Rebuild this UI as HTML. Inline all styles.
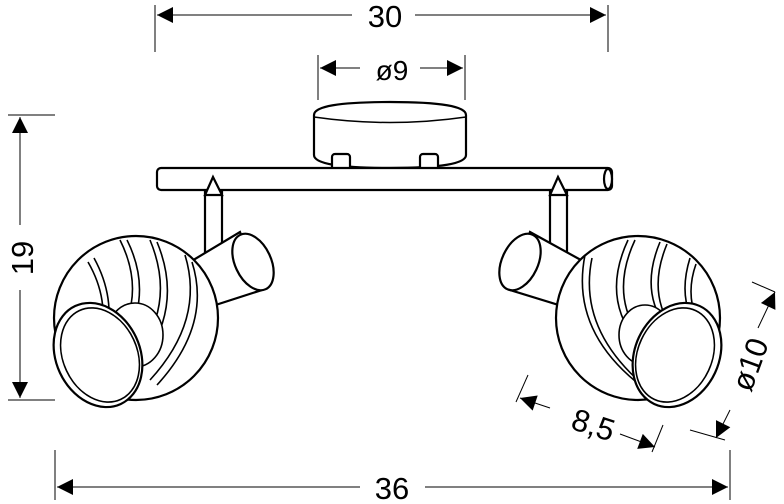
<!DOCTYPE html>
<html><head><style>body{margin:0;background:#fff}svg{display:block}</style></head><body>
<svg width="784" height="504" viewBox="0 0 784 504" xmlns="http://www.w3.org/2000/svg" font-family="Liberation Sans, sans-serif">
<defs>
<marker id="a" viewBox="0 0 10 10" refX="10" refY="5" markerWidth="22" markerHeight="16" markerUnits="userSpaceOnUse" orient="auto-start-reverse"><path d="M0,0L10,5L0,10z" fill="#000"/></marker>
</defs>
<g stroke="#000" stroke-width="1" fill="none">
<line x1="155" y1="5" x2="155" y2="52"/><line x1="608" y1="5" x2="608" y2="52"/>
<line x1="157" y1="15" x2="352" y2="15" marker-start="url(#a)"/>
<line x1="415" y1="15" x2="606" y2="15" marker-end="url(#a)"/>
<line x1="318" y1="55" x2="318" y2="100"/><line x1="465" y1="55" x2="465" y2="100"/>
<line x1="320" y1="68" x2="360" y2="68" marker-start="url(#a)"/>
<line x1="420" y1="68" x2="463" y2="68" marker-end="url(#a)"/>
<line x1="8" y1="115" x2="55" y2="115"/><line x1="8" y1="400" x2="55" y2="400"/>
<line x1="20" y1="117" x2="20" y2="225" marker-start="url(#a)"/>
<line x1="20" y1="290" x2="20" y2="398" marker-end="url(#a)"/>
<line x1="55" y1="450" x2="55" y2="500"/><line x1="730" y1="450" x2="730" y2="500"/>
<line x1="57" y1="487" x2="360" y2="487" marker-start="url(#a)"/>
<line x1="425" y1="487" x2="728" y2="487" marker-end="url(#a)"/>
<line x1="528" y1="375" x2="516" y2="402"/><line x1="663" y1="425" x2="652" y2="452"/>
<line x1="520" y1="398" x2="550" y2="408" marker-start="url(#a)"/>
<line x1="620" y1="434" x2="655" y2="447" marker-end="url(#a)"/>
<line x1="752" y1="282" x2="775" y2="292"/><line x1="690" y1="430" x2="725" y2="440"/>
<line x1="775" y1="292" x2="758" y2="328" marker-start="url(#a)"/>
<line x1="730" y1="410" x2="716" y2="438" marker-end="url(#a)"/>
</g>
<g font-size="31" fill="#000" text-anchor="middle">
<text x="385" y="27">30</text>
<text x="392" y="80" font-size="28">ø9</text>
<text x="392" y="499">36</text>
<text transform="translate(33,258) rotate(-90)">19</text>
<text transform="translate(590,435) rotate(18)">8,5</text>
<text transform="translate(760,368) rotate(-70)">ø10</text>
</g>
<g stroke="#000" stroke-width="2.2" fill="#fff">
<path d="M314,115 Q314,102 390,102 Q466,102 466,115 L466,155 Q466,168 390,168 Q314,168 314,155 Z"/>
<path d="M314,117 Q390,128 466,117" fill="none" stroke-width="1.5"/>
<rect x="332" y="154" width="18" height="16" rx="3"/><rect x="420" y="154" width="18" height="16" rx="3"/>
<rect x="157" y="168" width="455" height="22" rx="4"/>
<ellipse cx="608" cy="179" rx="4" ry="10"/>
<rect x="205" y="192" width="17" height="60"/>
<path d="M205,195 L213,177 L222,195 Z"/>
<rect x="550" y="192" width="17" height="60"/>
<path d="M550,195 L558,177 L567,195 Z"/>
<path d="M185,265 L240,232 L262,290 L200,310 Z"/>
<ellipse cx="253" cy="262" rx="18" ry="30" transform="rotate(-25 253 262)"/>
<path d="M590,265 L530,232 L510,290 L575,310 Z"/>
<ellipse cx="520" cy="262" rx="18" ry="30" transform="rotate(25 520 262)"/>
<circle cx="136" cy="318" r="82"/>
<g fill="none" stroke-width="1.6">
<path d="M88,262 Q110,300 100,340"/><path d="M94,258 Q116,298 106,340"/>
<path d="M120,240 Q145,290 120,335"/><path d="M127,240 Q152,290 127,338"/>
<path d="M150,240 Q175,300 140,350"/><path d="M157,242 Q182,302 147,355"/>
<path d="M185,255 Q205,320 150,380"/><path d="M192,262 Q212,325 157,385"/>
</g>
<ellipse cx="135" cy="335" rx="28" ry="32" fill="#fff" stroke-width="1.6"/>
<ellipse cx="98" cy="355" rx="42" ry="54" transform="rotate(-25 98 355)"/>
<ellipse cx="100" cy="355" rx="37" ry="49" transform="rotate(-25 100 355)" stroke-width="1.6"/>
<circle cx="638" cy="318" r="82"/>
<g fill="none" stroke-width="1.6">
<path d="M628,240 Q600,300 640,345"/><path d="M635,240 Q607,300 647,345"/>
<path d="M660,242 Q640,290 665,325"/><path d="M667,244 Q647,292 672,328"/>
<path d="M690,258 Q680,290 690,315"/><path d="M696,264 Q686,292 696,318"/>
<path d="M585,255 Q570,330 640,385"/><path d="M592,258 Q577,330 647,388"/>
</g>
<ellipse cx="645" cy="335" rx="26" ry="30" fill="#fff" stroke-width="1.6"/>
<ellipse cx="677" cy="355" rx="42" ry="54" transform="rotate(25 677 355)"/>
<ellipse cx="675" cy="355" rx="37" ry="49" transform="rotate(25 675 355)" stroke-width="1.6"/>
</g>
</svg>
</body></html>
